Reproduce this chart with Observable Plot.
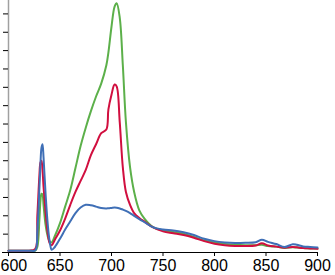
<!DOCTYPE html>
<html><head><meta charset="utf-8">
<script src="https://cdn.jsdelivr.net/npm/d3@7"></script>
<script src="https://cdn.jsdelivr.net/npm/@observablehq/plot@0.6"></script>
<style>body{margin:0;background:#fff}#chart svg{display:block}</style>
</head><body><div id="chart"></div>
<script>
const wavelength = [600,610,620,626,628,630,631,632,633,634,636,638,640,642,645,650,655,660,665,670,675,680,685,690,695,697,700,703,705,708,711,714,718,722,727,732,740,750,760,770,780,790,800,810,820,830,840,846,852,860,868,876,880,886,893,900];
const green = [0.1,0.1,0.1,0.1,0.3,1.8,2.8,3.2,3.15,2.6,1.5,0.9,0.6,0.55,0.9,1.6,2.5,3.4,4.6,5.8,6.8,7.7,8.5,9.2,10.2,10.9,12.3,13.4,13.58,12.8,10.2,7.1,4.65,3.3,2.3,1.85,1.4,1.2,1.12,1.02,0.85,0.66,0.55,0.47,0.42,0.4,0.4,0.42,0.35,0.32,0.25,0.28,0.27,0.24,0.22,0.22];
const red = [0.1,0.1,0.1,0.2,2.0,4.2,4.9,5.0,4.5,3.6,2.2,1.1,0.5,0.4,0.7,1.2,1.85,2.6,3.3,3.9,4.5,5.3,5.9,6.5,6.7,7.8,8.6,9.15,9.05,7.1,4.64,3.3,2.6,2.15,1.88,1.68,1.38,1.15,1.05,0.95,0.8,0.62,0.48,0.4,0.36,0.35,0.38,0.5,0.38,0.32,0.26,0.3,0.28,0.24,0.22,0.2];
const blue = [0.1,0.1,0.1,0.12,1.2,3.5,4.8,5.7,5.9,5.2,3.2,1.6,0.6,0.15,0.3,0.75,1.25,1.7,2.15,2.45,2.6,2.57,2.5,2.42,2.4,2.41,2.43,2.45,2.44,2.4,2.34,2.27,2.15,2.0,1.82,1.65,1.38,1.25,1.2,1.1,0.95,0.75,0.62,0.55,0.52,0.53,0.56,0.7,0.58,0.46,0.3,0.45,0.42,0.33,0.3,0.27];
const seriesNames = ["Series A","Series B","Series C"];
const seriesColors = ["#5cb04a","#d10f3f","#3f6fb6"];
const xTicks = [600,650,700,750,800,850,900];
const yTicks = d3.range(0,14);

const seriesValues = [green, red, blue];
const rows = seriesNames.flatMap((s, k) => wavelength.map((w,i) => ({w, v: seriesValues[k][i], s})));

const chart = Plot.plot({
  width: 335, height: 275,
  marginLeft: 8, marginRight: 18, marginTop: 0, marginBottom: 23,
  x: {domain: [600, 900]},
  y: {domain: [0, 13.73]},
  color: {type: "ordinal", domain: seriesNames, range: seriesColors},
  style: {fontFamily: '"Liberation Sans Narrow", "Arial Narrow", "Liberation Sans", sans-serif', fontSize: "16px", background: "#fff", color: "#000"},
  marks: [
    Plot.ruleX([600], {stroke: "#a0a0a0", strokeWidth: 1.5}),
    Plot.axisY({ticks: yTicks, tickFormat: () => "", tickSize: 5, stroke: "#000", label: null}),
    Plot.line(rows, {x: "w", y: "v", z: "s", stroke: "s", strokeWidth: 2, curve: "catmull-rom"}),
    Plot.ruleY([0], {stroke: "#000", strokeWidth: 1.2, insetLeft: -6}),
    Plot.axisX({ticks: xTicks, tickSize: 4, tickPadding: 3, tickFormat: d => d === 600 ? "" : String(d), stroke: "#000", fill: "#000", label: null}),
    Plot.axisX({ticks: [600], tickSize: 0, tickPadding: 7, textAnchor: "start", dx: -8, fill: "#000", label: null})
  ]
});
document.getElementById("chart").appendChild(chart);
</script>
</body></html>
